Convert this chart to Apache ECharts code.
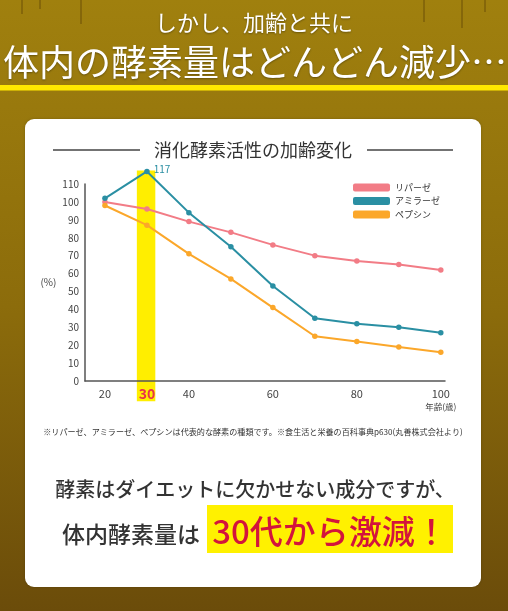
<!DOCTYPE html>
<html>
<head>
<meta charset="utf-8">
<script src="https://cdn.jsdelivr.net/npm/echarts@6/dist/echarts.min.js"></script>
<style>
  html, body { margin: 0; padding: 0; background: #8a6a0b; }
  #chart { width: 508px; height: 611px; }
</style>
</head>
<body>
<div id="chart"></div>
<script>
// 年齢ごとの酵素活性 (%)
const ages = [20, 30, 40, 50, 60, 70, 80, 90, 100];
const lipase = [100, 96, 89, 83, 76, 70, 67, 65, 62];
const amylase = [102, 117, 94, 75, 53, 35, 32, 30, 27];
const pepsin = [98, 87, 71, 57, 41, 25, 22, 19, 16];
const seriesNames = ['リパーゼ', 'アミラーゼ', 'ペプシン'];
const seriesColors = ['#f27c86', '#2a8fa3', '#fba72a'];
const ageTicks = [20, 30, 40, 60, 80, 100];
const highlightAge = 30;

const FONT = '"Noto Sans CJK JP", "Noto Sans", sans-serif';

const chart = echarts.init(document.getElementById('chart'));

function toPairs(values) {
    return ages.map((a, i) => ({ value: [a, values[i]] }));
}

const amylaseData = toPairs(amylase);
// 30代のピークにだけ数値を表示
amylaseData[ages.indexOf(highlightAge)].label = {
    show: true,
    position: 'right',
    distance: 4,
    offset: [0, -2],
    color: '#2a8fa3',
    fontSize: 10,
    fontFamily: FONT,
    formatter: (p) => p.value[1]
};

const dataList = [toPairs(lipase), amylaseData, toPairs(pepsin)];

chart.setOption({
    animation: false,
    textStyle: { fontFamily: FONT },
    grid: { left: 85, right: 63, top: 184, bottom: 230 },
    legend: {
        data: seriesNames,
        orient: 'vertical',
        left: 353,
        top: 183,
        padding: 0,
        itemWidth: 37,
        itemHeight: 8,
        itemGap: 4.5,
        icon: 'roundRect',
        textStyle: { fontSize: 9, color: '#333', fontFamily: FONT }
    },
    xAxis: {
        type: 'value',
        min: 15.25,
        max: 101,
        axisLine: { lineStyle: { color: '#555', width: 1.5 } },
        axisTick: { show: false },
        splitLine: { show: false },
        axisLabel: {
            customValues: ageTicks,
            margin: 6,
            color: '#444',
            fontSize: 11,
            formatter: (v) => {
                if (v === highlightAge) return '{hi|' + v + '}';
                if (v === 100) return '{n|' + v + '}\n{u|年齢(歳)}';
                return '{n|' + v + '}';
            },
            rich: {
                n: { fontSize: 11, color: '#444', lineHeight: 14 },
                hi: { fontSize: 14, color: '#e8334a', fontWeight: 'bold', lineHeight: 14 },
                u: { fontSize: 8.5, color: '#444', lineHeight: 11 }
            }
        }
    },
    yAxis: {
        type: 'value',
        min: 0,
        max: 110,
        interval: 10,
        name: '(%)',
        nameLocation: 'middle',
        nameRotate: 0,
        nameGap: 27,
        nameTextStyle: { fontSize: 10, color: '#444', align: 'center' },
        axisLine: { show: true, lineStyle: { color: '#555', width: 1.5 } },
        axisTick: { show: false },
        splitLine: { show: false },
        axisLabel: { color: '#444', fontSize: 10, margin: 6 }
    },
    series: seriesNames.map((name, i) => ({
        name: name,
        type: 'line',
        data: dataList[i],
        color: seriesColors[i],
        symbol: 'circle',
        symbolSize: 5.5,
        lineStyle: { width: 2 },
        clip: false,
        z: 3
    }))
});

// 背景・タイトル・注釈などの装飾
const band0 = chart.convertToPixel({ gridIndex: 0 }, [highlightAge - 2.4, 117.5]);
const band1 = chart.convertToPixel({ gridIndex: 0 }, [highlightAge + 2.0, -11.3]);

const drips = [[22, 0, 14], [40, 0, 9], [81, 0, 24], [424, 0, 22], [462, 0, 28], [485, 0, 12]];

chart.setOption({
    graphic: [
        {
            type: 'rect', z: -30, silent: true,
            shape: { x: 0, y: 0, width: 508, height: 611 },
            style: {
                fill: new echarts.graphic.LinearGradient(0, 0, 0, 1, [
                    { offset: 0, color: '#a0800e' },
                    { offset: 0.5, color: '#8c6c0b' },
                    { offset: 1, color: '#6b4c0a' }
                ])
            }
        },
        ...drips.map(d => ({
            type: 'line', z: -29, silent: true,
            shape: { x1: d[0], y1: d[1], x2: d[0], y2: d[1] + d[2] },
            style: { stroke: 'rgba(80,55,5,0.55)', lineWidth: 1.2 }
        })),
        {
            type: 'text', z: 5, x: 254, y: 23,
            style: {
                text: 'しかし、加齢と共に', fill: '#fff', font: '22px ' + FONT,
                align: 'center', verticalAlign: 'middle',
                textShadowColor: 'rgba(0,0,0,0.35)', textShadowBlur: 2, textShadowOffsetY: 1
            }
        },
        {
            type: 'text', z: 5, x: 255, y: 62,
            style: {
                text: '体内の酵素量はどんどん減少…', fill: '#fff', font: '36px ' + FONT,
                align: 'center', verticalAlign: 'middle',
                textShadowColor: 'rgba(0,0,0,0.35)', textShadowBlur: 2, textShadowOffsetY: 1
            }
        },
        {
            type: 'rect', z: 5, silent: true,
            shape: { x: 0, y: 85, width: 508, height: 5.5 },
            style: { fill: '#ffe800' }
        },
        {
            type: 'rect', z: -20, silent: true,
            shape: { x: 25, y: 119, width: 456, height: 468, r: 9 },
            style: { fill: '#fff', shadowColor: 'rgba(0,0,0,0.2)', shadowBlur: 3 }
        },
        {
            type: 'line', z: 5, silent: true,
            shape: { x1: 53, y1: 150, x2: 140, y2: 150 },
            style: { stroke: '#444', lineWidth: 1.5 }
        },
        {
            type: 'line', z: 5, silent: true,
            shape: { x1: 367, y1: 150, x2: 453, y2: 150 },
            style: { stroke: '#444', lineWidth: 1.5 }
        },
        {
            type: 'text', z: 5, x: 253, y: 150,
            style: {
                text: '消化酵素活性の加齢変化', fill: '#333', font: '18px ' + FONT,
                align: 'center', verticalAlign: 'middle'
            }
        },
        {
            type: 'rect', z: -5, silent: true,
            shape: { x: band0[0], y: band0[1], width: band1[0] - band0[0], height: band1[1] - band0[1] },
            style: { fill: '#ffee00' }
        },
        {
            type: 'text', z: 5, x: 253, y: 432,
            style: {
                text: '※リパーゼ、アミラーゼ、ペプシンは代表的な酵素の種類です。※食生活と栄養の百科事典p630(丸善株式会社より)',
                fill: '#333', font: '8.1px ' + FONT, align: 'center', verticalAlign: 'middle'
            }
        },
        {
            type: 'text', z: 5, x: 255, y: 489,
            style: {
                text: '酵素はダイエットに欠かせない成分ですが、', fill: '#333', font: '500 20px ' + FONT,
                align: 'center', verticalAlign: 'middle'
            }
        },
        {
            type: 'text', z: 5, x: 131, y: 534,
            style: {
                text: '体内酵素量は', fill: '#333', font: '500 23px ' + FONT,
                align: 'center', verticalAlign: 'middle'
            }
        },
        {
            type: 'rect', z: 4, silent: true,
            shape: { x: 207, y: 505, width: 246, height: 48 },
            style: { fill: '#fff100' }
        },
        {
            type: 'text', z: 5, x: 330, y: 531,
            style: {
                text: '30代から激減！', fill: '#d3143c', font: '500 33px ' + FONT,
                align: 'center', verticalAlign: 'middle'
            }
        }
    ]
});
</script>
</body>
</html>
